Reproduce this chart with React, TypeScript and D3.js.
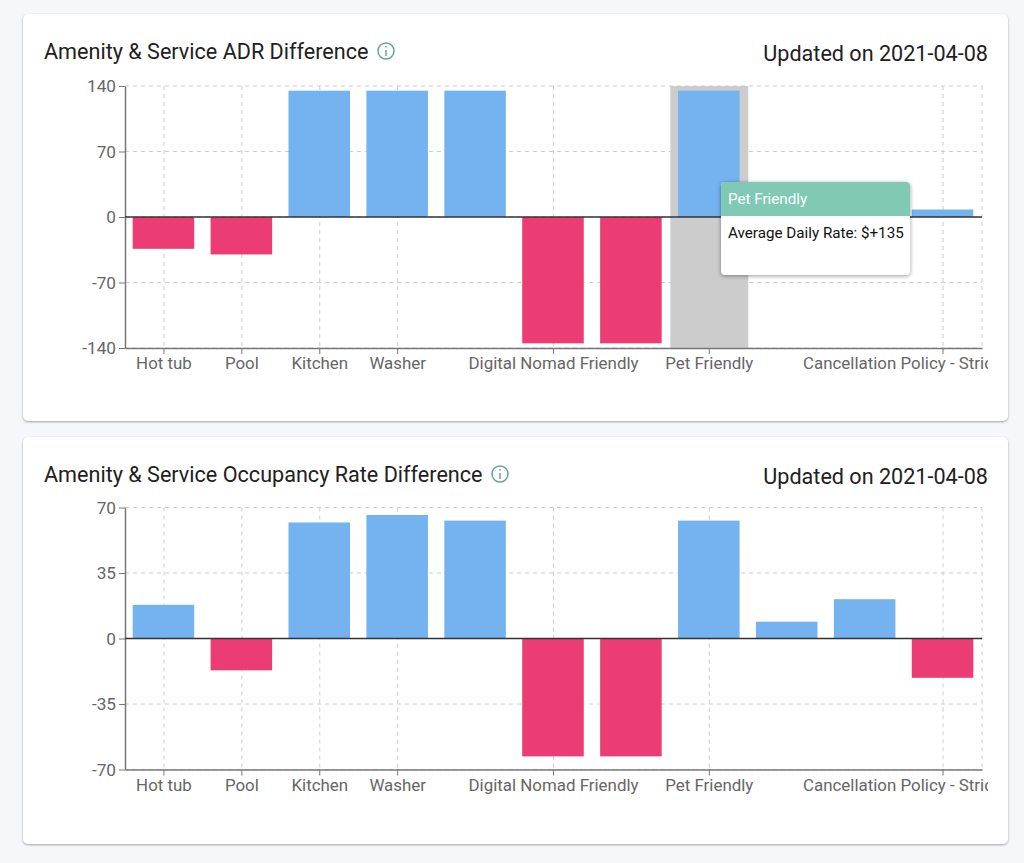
import { useEffect, useRef } from "react";
import * as d3 from "d3";

const tickLabels = [
  "Hot tub", "Pool", "Kitchen", "Washer", "",
  "Digital Nomad Friendly", "", "Pet Friendly", "", "",
  "Cancellation Policy - Strict",
];
const adrValues = [-34, -40, 135, 135, 135, -135, -135, 135, 0, 0, 8];
const occupancyValues = [18, -17, 62, 66, 63, -63, -63, 63, 9, 21, -21];
const adrTicks = [140, 70, 0, -70, -140];
const occupancyTicks = [70, 35, 0, -35, -70];

const FONT = "Roboto, sans-serif";
const LEFT = 125;
const RIGHT = 982;

interface ChartProps {
  title: string;
  values: number[];
  ticks: number[];
  cardTop: number;
  plotTop: number;
  iconX: number;
  tooltipIndex?: number;
}

const BarPanel: React.FC<ChartProps> = ({ title, values, ticks, cardTop, plotTop, iconX, tooltipIndex }) => {
  const ref = useRef<SVGGElement>(null);

  useEffect(() => {
    if (!ref.current) return;
    const g = d3.select(ref.current);
    g.selectAll("*").remove();

    const top = plotTop;
    const bottom = top + 262;
    const idx = values.map((_, i) => i);

    const x = d3.scaleBand<number>().domain(idx).range([LEFT - 0.5, RIGHT - 0.5]).paddingInner(0.21).paddingOuter(0.105);
    const band = d3.scaleBand<number>().domain(idx).range([LEFT, RIGHT]);
    const y = d3.scaleLinear().domain([ticks[ticks.length - 1], ticks[0]]).range([bottom, top]);
    const labelled = idx.filter(i => tickLabels[i] !== "");
    const cx = (i: number) => band(i)! + band.bandwidth() / 2;

    // grid
    const grid = g.append("g").attr("stroke", "#ccc").attr("stroke-dasharray", "4 4").attr("fill", "none");
    ticks.forEach(t => {
      grid.append("line").attr("x1", LEFT).attr("x2", RIGHT).attr("y1", y(t)).attr("y2", y(t));
    });
    [...labelled.map(cx), RIGHT].forEach(px => {
      grid.append("line").attr("x1", px).attr("x2", px).attr("y1", top).attr("y2", bottom);
    });

    // hover band
    if (tooltipIndex !== undefined) {
      g.append("rect")
        .attr("x", band(tooltipIndex)!)
        .attr("y", top)
        .attr("width", band.bandwidth())
        .attr("height", bottom - top)
        .attr("fill", "#ccc");
    }

    g.append("g")
      .selectAll("rect")
      .data(idx.filter(i => values[i] !== 0))
      .join("rect")
      .attr("x", i => x(i)!)
      .attr("width", x.bandwidth())
      .attr("y", i => y(Math.max(values[i], 0)))
      .attr("height", i => Math.abs(y(values[i]) - y(0)))
      .attr("fill", i => (values[i] > 0 ? "#74b3f0" : "#ec3c76"));

    // axes
    const yAxis = g.append("g")
      .attr("transform", `translate(${LEFT},0)`)
      .call(d3.axisLeft(y).tickValues(ticks).tickSize(6).tickSizeOuter(0).tickPadding(3).tickFormat(d => String(d)));
    // the wrapper holds the clip so it stays in page coordinates
    const xAxis = g.append("g")
      .attr("clip-path", `url(#clip-${cardTop})`)
      .append("g")
      .attr("transform", `translate(0,${bottom})`)
      .call(
        d3.axisBottom(band)
          .tickValues(labelled)
          .tickSize(6)
          .tickSizeOuter(0)
          .tickPadding(3.5)
          .tickFormat(i => tickLabels[i as number])
      );
    [yAxis, xAxis].forEach(a => {
      a.selectAll("path").attr("stroke", "#777").attr("stroke-width", 1.5);
      a.selectAll("line").attr("stroke", "#777");
      a.selectAll("text").attr("fill", "#666").attr("font-family", FONT);
    });
    yAxis.selectAll("text").attr("font-size", 17.2);
    xAxis.selectAll("text").attr("font-size", 16.9);

    // long last label starts left of its tick and runs into the clip edge
    xAxis.selectAll<SVGTextElement, number>("text")
      .filter(i => i === idx.length - 1)
      .attr("text-anchor", "start")
      .attr("x", 803 - cx(idx.length - 1));

    g.append("line")
      .attr("x1", LEFT).attr("x2", RIGHT)
      .attr("y1", y(0)).attr("y2", y(0))
      .attr("stroke", "#333")
      .attr("stroke-width", 1.3);

    if (tooltipIndex !== undefined) {
      const tipX = 721;
      const tipY = cardTop + 168;
      const tip = g.append("g");
      tip.append("rect")
        .attr("x", tipX).attr("y", tipY)
        .attr("width", 189).attr("height", 93).attr("rx", 4)
        .attr("fill", "#fff")
        .style("filter", "drop-shadow(0 1px 2px rgba(0,0,0,0.4))");
      tip.append("path")
        .attr("d", `M${tipX},${tipY + 34}V${tipY + 4}a4,4 0 0 1 4,-4H${tipX + 185}a4,4 0 0 1 4,4V${tipY + 34}Z`)
        .attr("fill", "#7fc9b5");
      tip.append("text")
        .attr("x", tipX + 7).attr("y", tipY + 22)
        .attr("fill", "#fff").attr("font-size", 15.2).attr("font-family", FONT)
        .text(tickLabels[tooltipIndex]);
      tip.append("text")
        .attr("x", tipX + 7).attr("y", tipY + 56)
        .attr("fill", "#111").attr("font-size", 15.2).attr("font-family", FONT)
        .text(`Average Daily Rate: $+${values[tooltipIndex]}`);
    }
  }, [values, ticks, cardTop, plotTop, tooltipIndex]);

  return (
    <g>
      <defs>
        <clipPath id={`clip-${cardTop}`}>
          <rect x={100} y={plotTop - 10} width={888} height={320} />
        </clipPath>
      </defs>
      <rect
        x={23} y={cardTop} width={985} height={407} rx={5}
        fill="#fff"
        style={{ filter: "drop-shadow(0 1px 1px rgba(0,0,0,0.35))" }}
      />
      <text x={44} y={cardTop + 44.5} fontFamily={FONT} fontSize={21.6} fill="#212121">{title}</text>
      <g fill="none" stroke="#5fa898" strokeWidth={1.5}>
        <circle cx={iconX} cy={cardTop + 37} r={8} />
        <line x1={iconX} x2={iconX} y1={cardTop + 36} y2={cardTop + 42} />
        <line x1={iconX} x2={iconX} y1={cardTop + 32} y2={cardTop + 33.5} />
      </g>
      <text x={988} y={cardTop + 47} textAnchor="end" fontFamily={FONT} fontSize={21.6} fill="#212121">
        Updated on 2021-04-08
      </text>
      <g ref={ref} />
    </g>
  );
};

export default function App() {
  return (
    <svg
      width={1024}
      height={863}
      style={{ position: "absolute", left: 0, top: 0, background: "#f5f7fb" }}
    >
      <BarPanel
        title="Amenity & Service ADR Difference"
        values={adrValues}
        ticks={adrTicks}
        cardTop={14}
        plotTop={86}
        iconX={386}
        tooltipIndex={7}
      />
      <BarPanel
        title="Amenity & Service Occupancy Rate Difference"
        values={occupancyValues}
        ticks={occupancyTicks}
        cardTop={437}
        plotTop={507.5}
        iconX={500}
      />
    </svg>
  );
}
